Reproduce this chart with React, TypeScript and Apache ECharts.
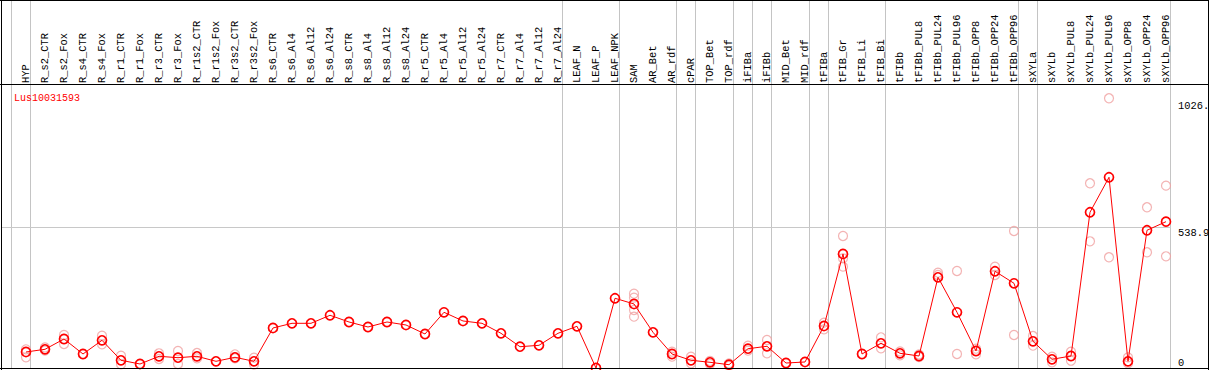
import React, { useEffect, useRef } from 'react';
import * as echarts from 'echarts';

const geneId = 'Lus10031593';

const categories = [
  'HYP', 'R_s2_CTR', 'R_s2_Fox', 'R_s4_CTR', 'R_s4_Fox', 'R_r1_CTR', 'R_r1_Fox', 'R_r3_CTR', 'R_r3_Fox',
  'R_r1s2_CTR', 'R_r1s2_Fox', 'R_r3s2_CTR', 'R_r3s2_Fox', 'R_s6_CTR', 'R_s6_Al4', 'R_s6_Al12', 'R_s6_Al24',
  'R_s8_CTR', 'R_s8_Al4', 'R_s8_Al12', 'R_s8_Al24', 'R_r5_CTR', 'R_r5_Al4', 'R_r5_Al12', 'R_r5_Al24',
  'R_r7_CTR', 'R_r7_Al4', 'R_r7_Al12', 'R_r7_Al24', 'LEAF_N', 'LEAF_P', 'LEAF_NPK', 'SAM', 'AR_Bet', 'AR_rdf',
  'cPAR', 'TOP_Bet', 'TOP_rdf', 'iFIBa', 'iFIBb', 'MID_Bet', 'MID_rdf', 'tFIBa', 'tFIB_Gr', 'tFIB_Li', 'tFIB_Bi',
  'tFIBb', 'tFIBb_PUL8', 'tFIBb_PUL24', 'tFIBb_PUL96', 'tFIBb_OPP8', 'tFIBb_OPP24', 'tFIBb_OPP96', 'sXYLa',
  'sXYLb', 'sXYLb_PUL8', 'sXYLb_PUL24', 'sXYLb_PUL96', 'sXYLb_OPP8', 'sXYLb_OPP24', 'sXYLb_OPP96',
];

const meanValues = [
  61.5, 71.8, 111.4, 53.8, 106.4, 29.6, 15.4, 44.9, 39.6, 44.9,
  25.7, 41.1, 25.7, 153.7, 171.7, 171.7, 202.5, 176.7, 157.5, 176.7,
  165.2, 130.6, 214, 180.6, 171.7, 133.3, 81.8, 87.2, 133.3, 160.2,
  0, 267.8, 245.9, 137.1, 53.8, 29.6, 21.9, 12.7, 74.1, 83.4,
  19.2, 23.1, 161.4, 438, 53.8, 94.9, 56.5, 46.1, 348.4, 214,
  65.3, 371.5, 325.4, 102.6, 33.4, 46.1, 598.2, 732.6, 25.7, 529, 562,
];

const replicateValues: number[][] = [
  [71.8, 41.1], [78.8, 67.2], [126.8, 92.2], [], [124.1, 91.0], [47.3, 14.2], [], [56.5, 34.6], [65.3, 15.4],
  [57.6, 37.3], [], [52.6, 37.3], [39.6, 13.4], [], [], [], [],
  [], [], [], [], [], [], [], [],
  [], [], [], [], [], [], [], [285.4, 270.1, 222.8, 197.1], [], [62.6, 43.4],
  [43.4, 18.1], [26.9, 15.4], [17.3, 7.7], [85.7, 66.5], [107.6, 56.5], [], [], [174, 148.7], [507.1, 421.4, 389.2], [], [117.9, 75.7],
  [63.4, 48.8], [51.9, 42.3], [366.1, 357.3], [372.6, 53.8], [74.1, 52.6], [389.2, 357.3], [526.3, 126.8], [122.9, 85.7],
  [43.4, 21.9], [62.6, 28], [709.6, 486.7], [1036, 425.3], [41.1, 18.1], [617.4, 444.5], [700.3, 429.1],
];

const scaleMarkValues = [0, 538.9, 1026];
const scaleMarkLabels = ['0', '538.9', '1026.'];

// indices of the last category of each group (separator drawn just after)
const groupEnds = [-1, 0, 28, 31, 34, 35, 37, 38, 39, 41, 42, 45, 52, 53, 60];

const W = 1209;
const H = 370;
const MONO = '"Liberation Mono", "DejaVu Sans Mono", monospace';

export default function App() {
  const ref = useRef<HTMLDivElement>(null);

  useEffect(() => {
    const el = ref.current!;
    const chart = echarts.init(el, null, { renderer: 'svg' });
    const idx = categories.map((_, i) => i);
    const repData: number[][] = [];
    replicateValues.forEach((reps, i) => reps.forEach((v) => repData.push([i, v])));

    const option: any = {
      animation: false,
      backgroundColor: '#ffffff',
      title: {
        text: geneId,
        left: 9,
        top: 88,
        textStyle: { color: '#ff0000', fontSize: 10, fontFamily: MONO, fontWeight: 'normal' },
      },
      grid: { left: 2, right: 38, top: 85, bottom: 2, containLabel: false },
      xAxis: {
        type: 'value',
        position: 'top',
        min: -24 / 19,
        max: 1145 / 19,
        axisLine: { show: false },
        axisTick: { show: false },
        splitLine: { show: false },
        axisLabel: {
          customValues: idx,
          rotate: 90,
          margin: 2,
          fontFamily: MONO,
          fontSize: 10.4,
          color: '#000',
          formatter: (v: number) => categories[Math.round(v)] ?? '',
        },
      },
      yAxis: { type: 'value', min: 0, max: 1087, show: false },
      series: [
        {
          type: 'scatter',
          data: repData,
          symbol: 'circle',
          symbolSize: 9,
          itemStyle: { color: 'rgba(0,0,0,0)', borderColor: '#f0a0a0', borderWidth: 1.2 },
          z: 2,
          silent: true,
        },
        {
          type: 'line',
          data: meanValues.map((v, i) => [i, v]),
          symbol: 'circle',
          symbolSize: 9,
          clip: false,
          lineStyle: { color: '#ff0000', width: 1 },
          itemStyle: { color: 'rgba(0,0,0,0)', borderColor: '#ff0000', borderWidth: 1.7 },
          z: 3,
          silent: true,
          markLine: {
            silent: true,
            symbol: 'none',
            z: 1,
            data: scaleMarkValues.map((v, k) => ({
              yAxis: v,
              lineStyle: {
                color: v === 538.9 ? '#c8c8c8' : 'rgba(0,0,0,0)',
                width: 1,
                type: 'solid',
              },
              label: {
                show: true,
                position: 'end',
                distance: 7,
                formatter: scaleMarkLabels[k],
                color: '#000',
                fontFamily: MONO,
                fontSize: 10.4,
                align: 'left',
                verticalAlign: v === 0 ? 'bottom' : 'top',
              },
            })),
          },
        },
      ],
    };
    chart.setOption(option);

    const xs = groupEnds.map((g) => chart.convertToPixel({ xAxisIndex: 0 }, g + 0.23) as number);
    const black = { stroke: '#000', lineWidth: 1 };
    const graphics: any[] = [
      ...xs.map((x) => ({
        type: 'line',
        silent: true,
        z: 0,
        shape: { x1: Math.round(x) + 0.5, y1: 0, x2: Math.round(x) + 0.5, y2: 368 },
        style: { stroke: '#c4c4c4', lineWidth: 1 },
      })),
      { type: 'line', silent: true, z: 10, shape: { x1: 0, y1: 0.5, x2: W, y2: 0.5 }, style: black },
      { type: 'line', silent: true, z: 10, shape: { x1: 0, y1: 84.5, x2: W, y2: 84.5 }, style: black },
      { type: 'line', silent: true, z: 10, shape: { x1: 0, y1: 368.5, x2: W, y2: 368.5 }, style: black },
      { type: 'line', silent: true, z: 10, shape: { x1: 1.5, y1: 0, x2: 1.5, y2: H }, style: black },
      { type: 'line', silent: true, z: 10, shape: { x1: 1208.5, y1: 0, x2: 1208.5, y2: H }, style: black },
    ];
    chart.setOption({ graphic: graphics });

    return () => chart.dispose();
  }, []);

  return (
    <div
      ref={ref}
      style={{ position: 'fixed', left: 0, top: 0, width: W, height: H, background: '#fff' }}
    />
  );
}
